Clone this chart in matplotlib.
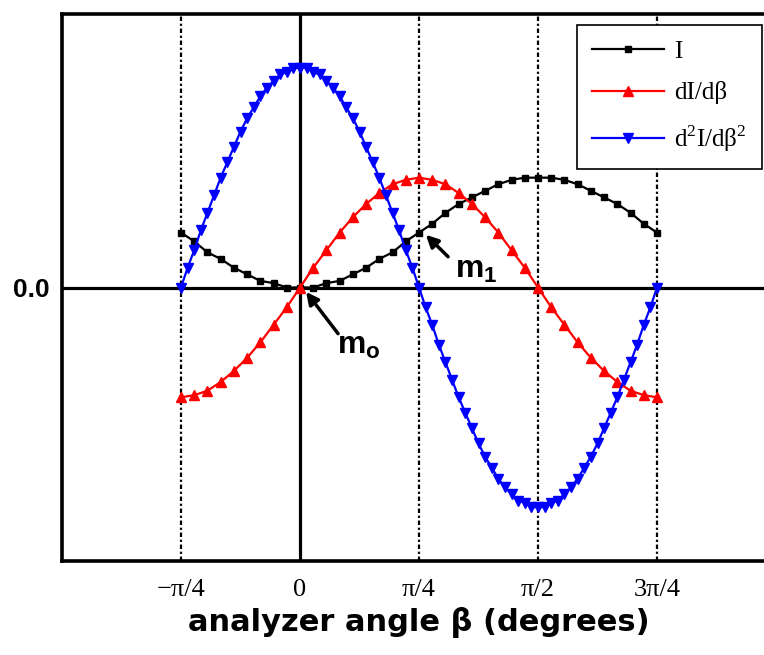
import numpy as np
import matplotlib
matplotlib.use("Agg")
from matplotlib import pyplot as plt

plt.rcParams['mathtext.fontset'] = 'custom'
plt.rcParams['mathtext.bf'] = 'Liberation Sans:bold'
plt.rcParams['mathtext.rm'] = 'Liberation Serif'

# analyzer angle (deg) and the three curves
beta_coarse = np.arange(-45, 136, 5)
beta_fine = np.arange(-45, 135.1, 2.5)

intensity = [0.25, 0.21, 0.16, 0.13, 0.09, 0.06, 0.03, 0.02, 0.00, 0.00,
             0.00, 0.02, 0.03, 0.06, 0.09, 0.13, 0.16, 0.21, 0.25, 0.29,
             0.34, 0.38, 0.41, 0.44, 0.47, 0.49, 0.50, 0.50, 0.50, 0.49,
             0.47, 0.44, 0.41, 0.38, 0.34, 0.29, 0.25]

d1 = [-0.50, -0.49, -0.47, -0.43, -0.38, -0.32, -0.25, -0.17, -0.09, 0.00,
      0.09, 0.17, 0.25, 0.32, 0.38, 0.43, 0.47, 0.49, 0.50, 0.49,
      0.47, 0.43, 0.38, 0.32, 0.25, 0.17, 0.09, 0.00, -0.09, -0.17,
      -0.25, -0.32, -0.38, -0.43, -0.47, -0.49, -0.50]

d2 = [0.00, 0.09, 0.17, 0.26, 0.34, 0.42, 0.50, 0.57, 0.64, 0.71,
      0.77, 0.82, 0.87, 0.91, 0.94, 0.97, 0.98, 1.00, 1.00, 1.00,
      0.98, 0.97, 0.94, 0.91, 0.87, 0.82, 0.77, 0.71, 0.64, 0.57,
      0.50, 0.42, 0.34, 0.26, 0.17, 0.09, 0.00, -0.09, -0.17, -0.26,
      -0.34, -0.42, -0.50, -0.57, -0.64, -0.71, -0.77, -0.82, -0.87, -0.91,
      -0.94, -0.97, -0.98, -1.00, -1.00, -1.00, -0.98, -0.97, -0.94, -0.91,
      -0.87, -0.82, -0.77, -0.71, -0.64, -0.57, -0.50, -0.42, -0.34, -0.26,
      -0.17, -0.09, 0.00]

tick_pos = [-45, 0, 45, 90, 135]
tick_lab = ['\u2212\u03c0/4', '0', '\u03c0/4', '\u03c0/2', '3\u03c0/4']

fig = plt.figure(figsize=(7.64, 6.55), dpi=100)
ax = fig.add_axes([62/764, 94/655, 714/764, 547/655])
ax.set_xlim(-90, 180)
ax.set_ylim(-1.245, 1.245)

for s in ax.spines.values():
    s.set_linewidth(2.6)

ax.axhline(0, color='k', lw=2.3, zorder=1)
ax.axvline(0, color='k', lw=2.3, zorder=1)
for xv in [-45, 45, 90, 135]:
    ax.axvline(xv, color='k', lw=1.6, ls=(0, (2, 1.2, 1, 1.2)), zorder=1)

ax.plot(beta_coarse, intensity, color='k', lw=1.6, marker='s', ms=4.5, label='I', zorder=3)
ax.plot(beta_coarse, d1, color='red', lw=1.6, marker='^', ms=6.5, label='dI/d\u03b2', zorder=4)
ax.plot(beta_fine, d2, color='blue', lw=1.6, marker='v', ms=6.5,
        label='d$^{2}$I/d\u03b2$^{2}$', zorder=5)

ax.set_xticks(tick_pos)
ax.set_xticklabels(tick_lab, fontfamily='Liberation Serif', fontsize=19)
ax.set_yticks([0])
ax.set_yticklabels(['0.0'], fontfamily='Liberation Sans', fontweight='bold', fontsize=19)
ax.tick_params(axis='both', length=0)
ax.tick_params(axis='x', pad=13)
ax.tick_params(axis='y', pad=9)
ax.set_xlabel('analyzer angle \u03b2 (degrees)', fontfamily='DejaVu Sans',
              fontweight='bold', fontsize=22, labelpad=4)

# markers for the two special points
arrow = dict(arrowstyle='-|>', color='k', lw=2.5, mutation_scale=18, shrinkA=0, shrinkB=0)
ax.annotate('', xy=(2.3, -0.02), xytext=(14.4, -0.21), arrowprops=arrow, zorder=6)
ax.text(14.0, -0.30, r'$\mathbf{m}_\mathbf{o}$', fontsize=23, zorder=6)
ax.annotate('', xy=(47.6, 0.24), xytext=(56.0, 0.14), arrowprops=arrow, zorder=6)
ax.text(58.5, 0.045, r'$\mathbf{m}_\mathbf{1}$', fontsize=23, zorder=6)

leg = ax.legend(loc='upper right', bbox_to_anchor=(762/764, 1 - 25/655),
                bbox_transform=fig.transFigure, prop={'family': 'Liberation Serif', 'size': 18},
                fancybox=False, framealpha=1, edgecolor='k', handlelength=2.9,
                handletextpad=0.4, labelspacing=0.75, borderpad=0.6, borderaxespad=0)
leg.get_frame().set_linewidth(1.2)
leg.set_zorder(10)

fig.savefig('out.png', dpi=100)
